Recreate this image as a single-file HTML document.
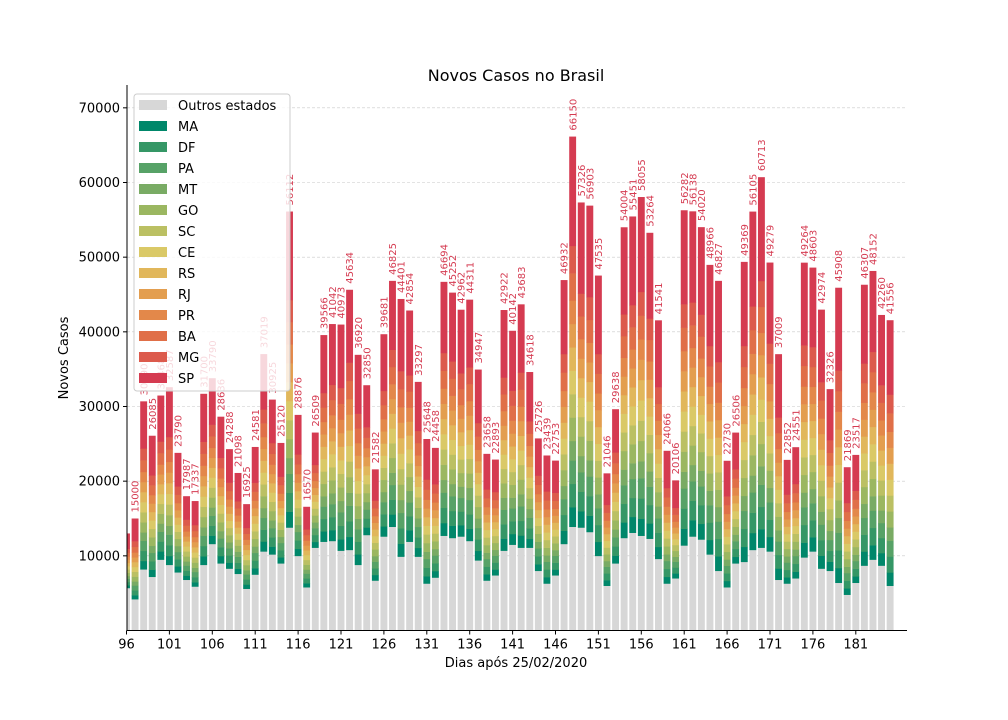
<!DOCTYPE html>
<html><head><meta charset="utf-8">
<style>
body{margin:0;background:#fff;}
svg{display:block;font-family:"DejaVu Sans","Liberation Sans",sans-serif;}
</style></head>
<body>
<svg id="chart" width="1008" height="720" viewBox="0 0 1008 720">
  <defs><clipPath id="plotclip"><rect x="127" y="80" width="781" height="551"/></clipPath></defs>
  <text x="516" y="81" font-size="16" text-anchor="middle" fill="#000">Novos Casos no Brasil</text>
  <g id="grid"></g>
  <g id="bars" clip-path="url(#plotclip)"></g>
  <g id="labels"></g>
  <g id="axes"></g>
  <text x="516" y="667" font-size="13" text-anchor="middle">Dias após 25/02/2020</text>
  <text transform="translate(68,358) rotate(-90)" font-size="13" text-anchor="middle">Novos Casos</text>
  <g id="legend"></g>
</svg>
<script>
const days = [];
for (let d = 96; d <= 185; d++) days.push(d);
const totals = [13000,15000,30690,26085,31468,32587,23790,17987,17337,31700,33790,28636,24288,21098,16925,24581,37019,30925,25120,56112,28876,16570,26509,39566,41042,40973,45634,36920,32850,21582,39681,46825,44401,42854,33297,25648,24458,46694,45252,42962,44311,34947,23658,22893,42922,40142,43683,34618,25726,23439,22753,46932,66150,57326,56903,47535,21046,29638,54004,55451,58055,53264,41541,24066,20106,56282,56138,54020,48966,46827,22730,26506,49369,56105,60713,49279,37009,22852,24551,49264,48603,42974,32326,45908,21869,23517,46307,48152,42260,41556];
const outros = [5700,4200,8200,7200,9500,8800,7800,6800,5900,8800,11600,9000,8300,7600,5600,7500,10600,10200,9000,13800,10000,5800,11100,11900,12000,10700,10800,8800,12800,6700,12600,13900,9900,11900,9900,6300,7100,12700,12400,12600,12000,9400,6700,7400,10700,11500,11100,11100,8000,6300,7400,11600,13900,13800,13200,10000,6000,9000,12400,13100,12700,12300,9600,6300,7000,11400,12600,12200,10200,8000,5800,9000,9200,10800,11100,10600,6800,6300,7000,9800,10600,8300,8000,6400,4800,6400,8700,9500,8700,6000];
const states = ["MA","DF","PA","MT","GO","SC","CE","RS","RJ","PR","BA","MG","SP"];
const stateShares = [0.05,0.06,0.06,0.05,0.06,0.06,0.06,0.06,0.06,0.06,0.07,0.07,0.28];
const yTicks = [10000,20000,30000,40000,50000,60000,70000];
const xTicks = [96,101,106,111,116,121,126,131,136,141,146,151,156,161,166,171,176,181];

const colors = ["#00876a","#359766","#57a267","#79ab64","#9bb761","#bbc063","#dac967","#e1b75b","#e39e4f","#e3884a","#e06f48","#dc5a4c","#d53b51"];
const grayC = "#d7d7d7";
const NS = "http://www.w3.org/2000/svg";
const X0 = 127, X1 = 907, Y0 = 630.5;
function xs(d){ return 126.5 + (d - 96) * 8.58; }
function ys(v){ return Y0 - v * 0.0074667; }
function mk(tag, attrs, parent){ const e = document.createElementNS(NS, tag); for (const k in attrs) e.setAttribute(k, attrs[k]); parent.appendChild(e); return e; }

const grid = document.getElementById('grid');
yTicks.forEach(t => {
  const l = mk('line', {x1:X0, x2:X1, y1:ys(t), y2:ys(t), stroke:'#c8c8c8', 'stroke-width':0.6, 'stroke-dasharray':'3,2'}, grid);
  
  
});

const bars = document.getElementById('bars');
const labels = document.getElementById('labels');
const bw = 6.9;
days.forEach((d, i) => {
  const g = mk('g', {}, bars);
  
  
  const x = xs(d) - bw / 2;
  let base = 0;
  const gr = mk('rect', {x:x, width:bw, y:ys(outros[i]), height:ys(0) - ys(outros[i]), fill:grayC}, g);
  
  
  base = outros[i];
  const rest = totals[i] - outros[i];
  states.forEach((s, k) => {
    const v = rest * stateShares[k];
    const r = mk('rect', {x:x, width:bw, y:ys(base + v), height:ys(base) - ys(base + v) + 0.3, fill:colors[k]}, g);
    
    
    base += v;
  });
  if (xs(d) > X0 + 2) {
    const ty = ys(totals[i]) - 6;
    const t = mk('text', {transform:'translate(' + (xs(d) + 3.6) + ',' + ty + ') rotate(-90)', 'font-size':10, fill:'#d53b51'}, labels);
    t.textContent = totals[i];
    
    
  }
});

const axes = document.getElementById('axes');
mk('line', {x1:X0, x2:X0, y1:85, y2:Y0, stroke:'#000', 'stroke-width':1}, axes);
mk('line', {x1:X0, x2:X1, y1:Y0, y2:Y0, stroke:'#000', 'stroke-width':1}, axes);
yTicks.forEach(t => {
  mk('line', {x1:X0 - 4, x2:X0, y1:ys(t), y2:ys(t), stroke:'#000'}, axes);
  const tx = mk('text', {x:X0 - 7, y:ys(t) + 4.5, 'font-size':13, 'text-anchor':'end'}, axes);
  tx.textContent = t;
  
  
});
xTicks.forEach(t => {
  mk('line', {x1:xs(t), x2:xs(t), y1:Y0, y2:Y0 + 4, stroke:'#000'}, axes);
  const tx = mk('text', {x:xs(t), y:Y0 + 18, 'font-size':13, 'text-anchor':'middle'}, axes);
  tx.textContent = t;
  
  
});

const legend = document.getElementById('legend');
mk('rect', {x:134, y:94, width:156, height:297, rx:3, fill:'rgba(255,255,255,0.8)', stroke:'#cccccc'}, legend);
const entries = [["Outros estados", grayC]].concat(states.map((s, k) => [s, colors[k]]));
entries.forEach((e, k) => {
  const y = 105 + k * 21;
  const g = mk('g', {}, legend);
  
  
  mk('rect', {x:139, y:y - 5, width:28, height:10, fill:e[1]}, g);
  const t = mk('text', {x:178, y:y + 5, 'font-size':13}, g);
  t.textContent = e[0];
});
</script>
</body></html>
